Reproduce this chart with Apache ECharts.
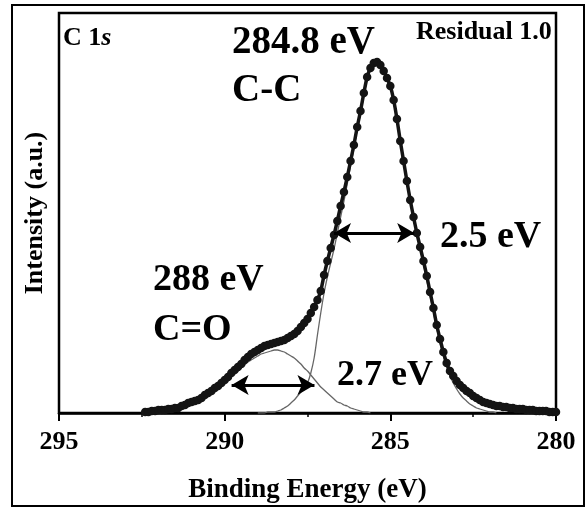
<!DOCTYPE html>
<html>
<head>
<meta charset="utf-8">
<script src="https://cdn.jsdelivr.net/npm/echarts@6.0.0/dist/echarts.min.js"></script>
<style>
html,body{margin:0;padding:0;background:#fff;}
#c{width:586px;height:507px;}
</style>
</head>
<body>
<div id="c"></div>
<script>
// Binding energy sample grid (eV)
const energy = [292.4,292.3,292.2,292.1,292.0,291.9,291.8,291.7,291.6,291.5,291.4,291.3,291.2,291.1,291.0,290.9,290.8,290.7,290.6,290.5,290.4,290.3,290.2,290.1,290.0,289.9,289.8,289.7,289.6,289.5,289.4,289.3,289.2,289.1,289.0,288.9,288.8,288.7,288.6,288.5,288.4,288.3,288.2,288.1,288.0,287.9,287.8,287.7,287.6,287.5,287.4,287.3,287.2,287.1,287.0,286.9,286.8,286.7,286.6,286.5,286.4,286.3,286.2,286.1,286.0,285.9,285.8,285.7,285.6,285.5,285.4,285.3,285.2,285.1,285.0,284.9,284.8,284.7,284.6,284.5,284.4,284.3,284.2,284.1,284.0,283.9,283.8,283.7,283.6,283.5,283.4,283.3,283.2,283.1,283.0,282.9,282.8,282.7,282.6,282.5,282.4,282.3,282.2,282.1,282.0,281.9,281.8,281.7,281.6,281.5,281.4,281.3,281.2,281.1,281.0,280.9,280.8,280.7,280.6,280.5,280.4,280.3,280.2,280.1,280.0];
// Measured intensity (dots)
const measured = [1,1,2,2,3,3,3,4,4,5,5,7,8,10,11,12,13,15,18,20,22,25,27,30,33,36,40,43,46,49,53,56,59,61,63,65,67,68,69,70,71,72,73,75,77,79,82,86,90,94,100,106,113,122,138,152,165,178,192,207,221,236,252,268,286,302,320,336,345,350,351,348,342,335,327,313,294,272,252,232,213,196,180,166,152,137,121,105,88,74,61,50,42,37,32,28,25,22,20,17,15,13,11,10,9,8,7,7,6,6,5,5,4,4,4,3,3,3,2,2,2,2,1,1,1];
// C=O component (grey)
const compCO = [1,1,1,2,2,2,3,3,4,4,5,6,7,8,9,11,12,14,16,18,20,23,25,28,30,33,36,39,42,45,48,51,53,55,57,59,60,61,62,63,63,62,61,59,57,55,52,49,45,42,38,34,30,26,23,20,17,14,11,10,8,7,5,4,3,2,1,1,0,null,null,null,null,null,null,null,null,null,null,null,null,null,null,null,null,null,null,null,null,null,null,null,null,null,null,null,null,null,null,null,null,null,null,null,null,null,null,null,null,null,null,null,null,null,null,null,null,null,null,null,null,null,null,null,null];
// C-C component (grey)
const compCC = [null,null,null,null,null,null,null,null,null,null,null,null,null,null,null,null,null,null,null,null,null,null,null,null,null,null,null,null,null,null,null,null,null,null,0,0,0,1,1,1,2,3,5,7,10,13,17,21,25,30,40,55,78,100,120,136,150,164,180,196,212,229,247,264,283,299,317,334,344,349,350,347,341,334,326,312,293,271,251,231,212,195,179,164,149,133,117,101,85,70,57,46,37,30,24,19,15,12,9,7,5,4,3,2,1,1,0,null,null,null,null,null,null,null,null,null,null,null,null,null,null,null,null,null,null];
// FWHM arrows: [from eV, to eV, intensity]
const arrowCC = [286.7, 284.28, 180];
const arrowCO = [289.79, 287.29, 28];
// Axis ticks
const xMin = 280, xMax = 295, xStep = 5;

const pair = (ys) => energy.map((e, i) => [e, ys[i]]);
const serif = '"Liberation Serif", "Times New Roman", serif';

const chart = echarts.init(document.getElementById('c'), null, {renderer: 'canvas'});
chart.setOption({
  animation: false,
  backgroundColor: '#fff',
  grid: {left: 59, right: 30, top: 13, bottom: 94, show: true, borderColor: '#000', borderWidth: 2.5,
         containLabel: false, outerBoundsMode: 'none'},
  xAxis: {
    type: 'value', min: xMin, max: xMax, interval: xStep, inverse: true,
    name: 'Binding Energy (eV)', nameLocation: 'middle', nameGap: 64,
    nameTextStyle: {fontFamily: serif, fontWeight: 'bold', fontSize: 27, color: '#000'},
    axisLine: {show: true, lineStyle: {color: '#000', width: 2.5}},
    axisTick: {show: true, inside: false, length: 8, lineStyle: {color: '#000', width: 2}},
    minorTick: {show: true, splitNumber: 2, length: 4, lineStyle: {color: '#000', width: 1.5}},
    axisLabel: {fontFamily: serif, fontWeight: 'bold', fontSize: 26, color: '#000', margin: 16},
    splitLine: {show: false}
  },
  yAxis: {
    type: 'value', min: 0, max: 400,
    name: 'Intensity (a.u.)', nameLocation: 'middle', nameGap: 11,
    nameTextStyle: {fontFamily: serif, fontWeight: 'bold', fontSize: 26, color: '#000'},
    axisLine: {show: false}, axisTick: {show: false}, axisLabel: {show: false}, splitLine: {show: false}
  },
  series: [
    {type: 'line', data: pair(compCO), smooth: 0.3, showSymbol: false, connectNulls: false,
     lineStyle: {color: '#666', width: 1.3}, z: 2, silent: true},
    {type: 'line', data: pair(compCC), smooth: 0.3, showSymbol: false, connectNulls: false,
     lineStyle: {color: '#666', width: 1.3}, z: 2, silent: true},
    {type: 'line', data: pair(measured), smooth: 0.2, showSymbol: true, symbol: 'circle', symbolSize: 8.5,
     itemStyle: {color: '#141414'}, lineStyle: {color: '#141414', width: 3.5}, z: 3, silent: true,
     markLine: {
       silent: true, symbol: ['arrow', 'arrow'], symbolSize: [15, 17], animation: false,
       label: {show: false},
       lineStyle: {color: '#000', width: 3, type: 'solid'},
       emphasis: {disabled: true},
       data: [
         [{coord: [arrowCC[0], arrowCC[2]]}, {coord: [arrowCC[1], arrowCC[2]]}],
         [{coord: [arrowCO[0], arrowCO[2]]}, {coord: [arrowCO[1], arrowCO[2]]}]
       ]
     }}
  ],
  graphic: [
    {type: 'rect', silent: true, shape: {x: 12, y: 5, width: 572, height: 501}, style: {fill: 'none', stroke: '#000', lineWidth: 2}},
    {type: 'text', x: 63, y: 38, silent: true, style: {text: '{a|C 1}{b|s}', align: 'left', verticalAlign: 'middle',
      rich: {a: {font: 'bold 26px ' + serif, fill: '#000'}, b: {font: 'italic bold 26px ' + serif, fill: '#000'}}}},
    {type: 'text', x: 232, y: 43, silent: true, style: {text: '284.8 eV', font: 'bold 39px ' + serif, fill: '#000', align: 'left', verticalAlign: 'middle'}},
    {type: 'text', x: 232, y: 91, silent: true, style: {text: 'C-C', font: 'bold 39px ' + serif, fill: '#000', align: 'left', verticalAlign: 'middle'}},
    {type: 'text', x: 416, y: 32, silent: true, style: {text: 'Residual 1.0', font: 'bold 26px ' + serif, fill: '#000', align: 'left', verticalAlign: 'middle'}},
    {type: 'text', x: 153, y: 280, silent: true, style: {text: '288 eV', font: 'bold 38px ' + serif, fill: '#000', align: 'left', verticalAlign: 'middle'}},
    {type: 'text', x: 153, y: 330, silent: true, style: {text: 'C=O', font: 'bold 38px ' + serif, fill: '#000', align: 'left', verticalAlign: 'middle'}},
    {type: 'text', x: 440, y: 237, silent: true, style: {text: '2.5 eV', font: 'bold 38px ' + serif, fill: '#000', align: 'left', verticalAlign: 'middle'}},
    {type: 'text', x: 337, y: 376, silent: true, style: {text: '2.7 eV', font: 'bold 36px ' + serif, fill: '#000', align: 'left', verticalAlign: 'middle'}}
  ]
});
</script>
</body>
</html>
